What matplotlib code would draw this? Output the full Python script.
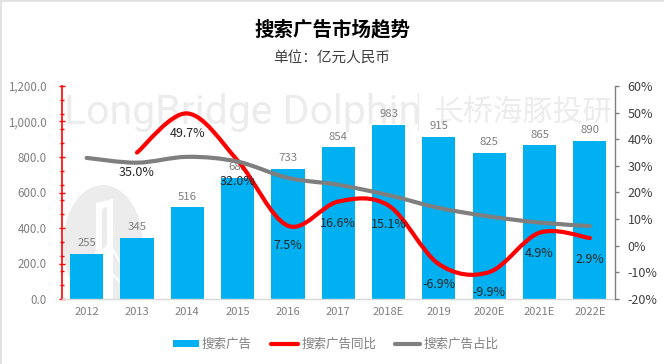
import numpy as np
import matplotlib
matplotlib.use('Agg')
import matplotlib.pyplot as plt
from matplotlib.path import Path
from matplotlib.patches import PathPatch, Ellipse, Polygon, Rectangle
from matplotlib.transforms import Affine2D

plt.rcParams['font.family'] = ['Noto Sans CJK SC', 'DejaVu Sans']

categories = ['2012', '2013', '2014', '2015', '2016', '2017', '2018E', '2019', '2020E', '2021E', '2022E']
ad_revenue = [255, 345, 516, 682, 733, 854, 983, 915, 825, 865, 890]
ad_yoy = [None, 35.0, 49.7, 32.0, 7.5, 16.6, 15.1, -6.9, -9.9, 4.9, 2.9]
ad_share = [33.0, 31.2, 33.4, 31.6, 25.5, 22.9, 19.0, 14.2, 11.0, 8.7, 7.4]
left_ticks = [0, 200, 400, 600, 800, 1000, 1200]
right_ticks = [-20, -10, 0, 10, 20, 30, 40, 50, 60]
title = '搜索广告市场趋势'
subtitle = '单位：亿元人民币'
legend_names = ['搜索广告', '搜索广告同比', '搜索广告占比']

W, H = 664, 364
fig = plt.figure(figsize=(W / 100, H / 100), dpi=100, facecolor='white')
L, R, T, B = 61.5, 615, 86, 299
ax = fig.add_axes([L / W, 1 - B / H, (R - L) / W, (B - T) / H])
ax2 = ax.twinx()
ax.set_zorder(1); ax2.set_zorder(2)
ax.patch.set_visible(False); ax2.patch.set_visible(False)

px = Affine2D().scale(1, -1).translate(0, H)  # image pixel coordinates


def smooth_path(xs, ys):
    """Spline through the points, in the way spreadsheet charts smooth a line."""
    p = np.column_stack([xs, ys]).astype(float)
    verts = [p[0]]
    codes = [Path.MOVETO]
    for i in range(len(p) - 1):
        p0 = p[max(i - 1, 0)]
        p3 = p[min(i + 2, len(p) - 1)]
        verts += [p[i] + (p[i + 1] - p0) / 6, p[i + 1] - (p3 - p[i]) / 6, p[i + 1]]
        codes += [Path.CURVE4] * 3
    return Path(verts, codes)


# frame edge of the screenshot
fig.add_artist(Rectangle((0, 0), 1.5, H, transform=px, fc='#e2e2e2', ec='none'))
fig.add_artist(Rectangle((0, 0), W, 1.5, transform=px, fc='#e2e2e2', ec='none'))

# watermark
wm = '#ececec'
e = Ellipse((103, 245), 80, 120, transform=px, fc=wm, ec='none', zorder=-5)
fig.add_artist(e)
e.set_clip_path(Rectangle((0, 0), W, B, transform=px))
fig.add_artist(Polygon([(96, 203), (113, 199), (113, 299), (96, 299)],
                       closed=True, transform=px, fc='white', ec='none', zorder=-4))
fig.add_artist(Polygon([(102, 209), (107, 207), (107, 245), (102, 250)],
                       closed=True, transform=px, fc=wm, ec='none', zorder=-3))
for (a, b, c, d) in [(86, 265, 113, 232), (113, 250, 126, 272), (84, 288, 100, 262), (100, 262, 128, 290)]:
    fig.add_artist(plt.Line2D([a, c], [b, d], transform=px, color='white', lw=1.6, zorder=-4))
fig.text(64 / W, 1 - 112 / H, 'LongBridge Dolphin', fontsize=29.5, color=wm, va='center', ha='left',
         family='Roboto', zorder=-5)
fig.add_artist(plt.Line2D([418, 418], [93, 130], transform=px, color=wm, lw=1, zorder=-5))
fig.text(433 / W, 1 - 112 / H, '长桥海豚投研', fontsize=21.5, color=wm, va='center', ha='left', zorder=-5)

x = np.arange(len(categories))
ax.bar(x, ad_revenue, width=0.66, color='#00B0F0', zorder=2)
ax.set_xlim(-0.5, len(categories) - 0.5)
ax.set_ylim(0, 1200)
ax2.set_ylim(-20, 60)

ax.set_xticks(x, categories)
ax.set_yticks(left_ticks, [f'{v:,.1f}' for v in left_ticks])
ax.set_yticks(np.arange(0, 1201, 80), minor=True)
ax.tick_params(axis='y', which='major', direction='inout', length=4, width=1, color='#ff0000',
               labelsize=8.3, labelcolor='#7f7f7f', pad=8.5)
ax.tick_params(axis='y', which='minor', direction='inout', length=3, width=1, color='#ff0000')
ax.tick_params(axis='x', length=0, labelsize=8, labelcolor='#7f7f7f', pad=6)
for s in ['top', 'right']:
    ax.spines[s].set_visible(False)
ax.spines['left'].set_color('#ff0000')
ax.spines['left'].set_linewidth(1.2)
ax.spines['bottom'].set_color('#d9d9d9')
ax.spines['bottom'].set_linewidth(1)

ax2.set_yticks(right_ticks, [f'{v}%' for v in right_ticks])
ax2.tick_params(axis='y', direction='out', length=3, width=1, color='#7f7f7f',
                labelsize=9, labelcolor='#404040', pad=6)
for s in ['top', 'left', 'bottom']:
    ax2.spines[s].set_visible(False)
ax2.spines['right'].set_color('#7f7f7f')
ax2.spines['right'].set_linewidth(1)

# lines
yoy_x = [i for i, v in enumerate(ad_yoy) if v is not None]
yoy_y = [ad_yoy[i] for i in yoy_x]
ax2.add_patch(PathPatch(smooth_path(yoy_x, yoy_y), fc='none', ec='#ff0000', lw=3, capstyle='round', zorder=3))
ax2.add_patch(PathPatch(smooth_path(x, ad_share), fc='none', ec='#7f7f7f', lw=3, capstyle='round', zorder=4))

# labels
for xi, v in zip(x, ad_revenue):
    ax.annotate(str(v), (xi, v), xytext=(0, 4), textcoords='offset points', ha='center', va='bottom',
                fontsize=8.2, color='#7f7f7f', zorder=5)
yoy_off = {1: 13, 2: 14, 3: 14, 4: 13, 5: 15, 6: 12, 7: 14, 8: 14, 9: 14, 10: 15}
for i in yoy_x:
    ax2.annotate(f'{ad_yoy[i]:.1f}%', (i, ad_yoy[i]), xytext=(0, -yoy_off[i] * 0.72), textcoords='offset points',
                 ha='center', va='top', fontsize=9, color='#262626', zorder=6)

# titles
fig.text(332 / W, 1 - 30 / H, title, fontsize=14, fontweight='bold', color='black', ha='center', va='center')
fig.text(332 / W, 1 - 59 / H, subtitle, fontsize=10.5, color='#404040', ha='center', va='center')

# legend
fig.add_artist(Rectangle((173, 340), 26, 7, transform=px, fc='#00B0F0', ec='none'))
fig.text(202 / W, 1 - 344 / H, legend_names[0], fontsize=9, color='#7f7f7f', ha='left', va='center')
fig.add_artist(plt.Line2D([271, 298], [343.5, 343.5], transform=px, color='#ff0000', lw=3, solid_capstyle='round'))
fig.text(301 / W, 1 - 344 / H, legend_names[1], fontsize=9, color='#7f7f7f', ha='left', va='center')
fig.add_artist(plt.Line2D([395, 420], [343.5, 343.5], transform=px, color='#7f7f7f', lw=3, solid_capstyle='round'))
fig.text(423 / W, 1 - 344 / H, legend_names[2], fontsize=9, color='#7f7f7f', ha='left', va='center')

fig.savefig('out.png', dpi=100)
